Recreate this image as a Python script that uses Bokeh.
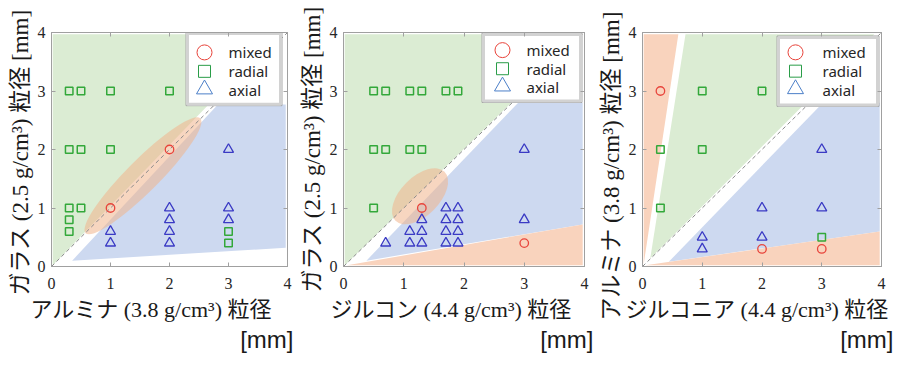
import math
from bokeh.plotting import figure
from bokeh.layouts import row
from bokeh.models import LinearAxis, FixedTicker, Range1d, Title
from bokeh.core.properties import value
from bokeh.embed import file_html
from bokeh.resources import INLINE

# ---------------- data ----------------
TICKS = [0, 1, 2, 3, 4]
LEGEND_LABELS = ["mixed", "radial", "axial"]
DIAG = [0, 4]

# Panel 1: alumina (x) vs glass (y)
P1_MIXED_X = [1, 2]
P1_MIXED_Y = [1, 2]
P1_RADIAL_X = [0.3, 0.5, 1, 2, 0.3, 0.5, 1, 0.3, 0.5, 0.3, 0.3, 3, 3]
P1_RADIAL_Y = [3, 3, 3, 3, 2, 2, 2, 1, 1, 0.8, 0.6, 0.6, 0.4]
P1_AXIAL_X = [1, 1, 2, 2, 2, 2, 3, 3, 3]
P1_AXIAL_Y = [0.6, 0.4, 1, 0.8, 0.6, 0.4, 2, 1, 0.8]

# Panel 2: zircon (x) vs glass (y)
P2_MIXED_X = [1.3, 3]
P2_MIXED_Y = [1, 0.4]
P2_RADIAL_X = [0.5, 0.7, 1.1, 1.3, 1.7, 1.9, 0.5, 0.7, 1.1, 1.3, 0.5]
P2_RADIAL_Y = [3, 3, 3, 3, 3, 3, 2, 2, 2, 2, 1]
P2_AXIAL_X = [0.7, 1.1, 1.3, 1.1, 1.3, 1.3, 1.7, 1.9, 1.7, 1.9, 1.7, 1.9, 1.7, 1.9, 3, 3]
P2_AXIAL_Y = [0.4, 0.6, 0.6, 0.4, 0.4, 0.8, 1, 1, 0.8, 0.8, 0.6, 0.6, 0.4, 0.4, 2, 0.8]

# Panel 3: zirconia (x) vs alumina (y)
P3_MIXED_X = [0.3, 2, 3]
P3_MIXED_Y = [3, 0.3, 0.3]
P3_RADIAL_X = [0.3, 1, 2, 1, 0.3, 3]
P3_RADIAL_Y = [2, 3, 3, 2, 1, 0.5]
P3_AXIAL_X = [1, 1, 2, 2, 3, 3]
P3_AXIAL_Y = [0.5, 0.3, 1, 0.5, 2, 1]

# shaded regime regions
P1_GREEN_X = [0.02, 0.02, 3.82]
P1_GREEN_Y = [0.02, 3.97, 3.97]
P1_BLUE_X = [0.35, 3.97, 3.97, 2.82]
P1_BLUE_Y = [0.10, 0.32, 2.77, 2.77]
P1_ELLIPSE = dict(x=1.55, y=1.55, w=2.75, h=0.55, angle=45)

P2_GREEN_X = [0.02, 0.02, 3.95]
P2_GREEN_Y = [0.02, 3.97, 3.97]
P2_BLUE_X = [0.38, 3.97, 3.97, 2.90]
P2_BLUE_Y = [0.10, 0.72, 2.80, 2.80]
P2_ORANGE_X = [0.06, 3.97, 3.97]
P2_ORANGE_Y = [0.02, 0.02, 0.72]
P2_ELLIPSE = dict(x=1.27, y=1.20, w=1.15, h=0.66, angle=45)

P3_ORANGE_L_X = [0.02, 0.02, 0.60]
P3_ORANGE_L_Y = [0.04, 3.97, 3.97]
P3_GREEN_X = [0.13, 0.72, 3.88]
P3_GREEN_Y = [0.14, 3.97, 3.97]
P3_BLUE_X = [0.44, 3.97, 3.97, 3.02]
P3_BLUE_Y = [0.08, 0.60, 2.80, 2.80]
P3_ORANGE_B_X = [0.05, 3.97, 3.97]
P3_ORANGE_B_Y = [0.02, 0.02, 0.60]

# ---------------- style ----------------
SERIF = "'Liberation Serif', 'Times New Roman', serif"
MIX = "'Liberation Serif', 'Noto Sans CJK JP', serif"
SANS = "'Liberation Sans', 'Noto Sans', sans-serif"
LEG_FONT = "'Noto Sans', sans-serif"
TEXT_COL = "#1a1a1a"
FRAME_COL = "#a0a0a0"
GREEN_FILL = "#dbecd3"
BLUE_FILL = "#cdd9f0"
ORANGE_FILL = "#f9d3bd"
ELL_FILL = "#f0b48c"
RED = "#e8453c"
GREEN = "#33a83a"
BLUE = "#3a3ac4"
LEG_RED = "#e8433a"
LEG_GREEN = "#2a9d48"
LEG_BLUE = "#4c7fc8"
H = 364


def make_panel(cfg):
    fw, fh, w, l, t = cfg["fw"], cfg["fh"], cfg["w"], cfg["l"], cfg["t"]
    p = figure(width=w, height=H, x_range=Range1d(0, 4), y_range=Range1d(0, 4),
               min_border_left=l, min_border_right=w - l - fw,
               min_border_top=t, min_border_bottom=H - t - fh,
               output_backend="svg", toolbar_location=None)
    p.grid.visible = False
    p.outline_line_color = FRAME_COL
    p.outline_line_width = 1
    p.background_fill_color = "white"
    p.border_fill_color = "white"

    for ax in (p.xaxis[0], p.yaxis[0]):
        ax.ticker = FixedTicker(ticks=TICKS)
        ax.major_tick_in = 4
        ax.major_tick_out = 0
        ax.minor_tick_line_color = None
        ax.axis_line_color = FRAME_COL
        ax.major_tick_line_color = FRAME_COL
        ax.major_label_text_font = SERIF
        ax.major_label_text_font_size = "16px"
        ax.major_label_text_color = "#262626"
    p.xaxis[0].major_label_standoff = 11
    p.yaxis[0].major_label_standoff = 6
    for loc in ("above", "right"):
        ax = LinearAxis(ticker=FixedTicker(ticks=TICKS), major_tick_in=4, major_tick_out=0,
                        minor_tick_line_color=None, axis_line_color=FRAME_COL,
                        major_tick_line_color=FRAME_COL, major_label_text_font_size="1px",
                        major_label_text_color=None, major_label_standoff=0)
        p.add_layout(ax, loc)

    # axis titles (as Titles so they can be offset along the axis)
    p.add_layout(Title(text=cfg["xlabel"], align="left", offset=cfg["x_off"],
                       text_font=MIX, text_font_size="22px", text_font_style="normal",
                       text_color=TEXT_COL, standoff=7, vertical_align="bottom"), "below")
    p.add_layout(Title(text="[mm]", align="right", offset=cfg["mm_off"],
                       text_font=SANS, text_font_size="24px", text_font_style="normal",
                       text_color=TEXT_COL, standoff=0, vertical_align="top"), "below")
    p.add_layout(Title(text=cfg["ylabel"], align="left", offset=cfg["y_off"],
                       text_font=MIX, text_font_size="23px", text_font_style="normal",
                       text_color=TEXT_COL, standoff=0, vertical_align="top"), "left")

    # regions
    for (xs, ys, col) in cfg["regions"]:
        p.patch(xs, ys, fill_color=col, line_color=None)
    if cfg.get("ellipse"):
        e = cfg["ellipse"]
        p.ellipse(x=[e["x"]], y=[e["y"]], width=[e["w"]], height=[e["h"]],
                  angle=[math.radians(e["angle"])], fill_color=ELL_FILL, fill_alpha=0.55,
                  line_color=None)

    p.line(DIAG, DIAG, line_color="#8a8a8a", line_dash="4 3", line_width=1)

    mx, my, rx, ry, axx, axy = cfg["pts"]
    p.scatter(rx, ry, marker="square", size=7.5, line_color=GREEN, fill_color=None, line_width=1.5)
    p.scatter(axx, axy, marker="triangle", size=10, line_color=BLUE, fill_color=None, line_width=1.3)
    p.scatter(mx, my, marker="circle", size=8.5, line_color=RED, fill_color=None, line_width=1.3)

    # legend box (pixel layout relative to the frame, mapped through the scales)
    bl, br, bt, bb, mxp, txp, rows = cfg["legend"]
    sx = 4.0 / fw
    sy = 4.0 / fh
    X = lambda px: px * sx
    Y = lambda py: 4 - py * sy
    p.quad(left=[X(bl - 1.5)], right=[X(br + 1.5)], top=[Y(bt - 1.5)], bottom=[Y(bb + 1.5)],
           fill_color=None, line_color="#a8a8a8", line_width=1)
    p.quad(left=[X(bl)], right=[X(br)], top=[Y(bt)], bottom=[Y(bb)],
           fill_color="white", line_color="#d2d2d2", line_width=3)
    ry_ = [Y(bt + r) for r in rows]
    p.scatter([X(bl + mxp)], [ry_[0]], marker="circle", size=15, line_color=LEG_RED,
              fill_color=None, line_width=1)
    p.scatter([X(bl + mxp)], [ry_[1]], marker="square", size=12, line_color=LEG_GREEN,
              fill_color=None, line_width=1)
    p.scatter([X(bl + mxp)], [ry_[2] + 1.0 * sy], marker="triangle", size=16, line_color=LEG_BLUE,
              fill_color=None, line_width=1)
    p.text(x=[X(bl + txp)] * 3, y=ry_, text=LEGEND_LABELS, text_font=value(LEG_FONT),
           text_font_size="15px", text_baseline="middle", text_align="left",
           text_color="#262626")
    return p


cfg1 = dict(w=295, l=51, fw=236, t=31, fh=235,
            regions=[(P1_GREEN_X, P1_GREEN_Y, GREEN_FILL), (P1_BLUE_X, P1_BLUE_Y, BLUE_FILL)],
            ellipse=P1_ELLIPSE,
            pts=(P1_MIXED_X, P1_MIXED_Y, P1_RADIAL_X, P1_RADIAL_Y, P1_AXIAL_X, P1_AXIAL_Y),
            xlabel="アルミナ (3.8 g/cm³) 粒径", x_off=-21, mm_off=-6,
            ylabel="ガラス (2.5 g/cm³) 粒径 [mm]", y_off=-29,
            legend=(136, 229, 1, 72, 17, 41, [19, 38, 57]))
cfg2 = dict(w=299, l=48, fw=241, t=30, fh=239,
            regions=[(P2_GREEN_X, P2_GREEN_Y, GREEN_FILL), (P2_BLUE_X, P2_BLUE_Y, BLUE_FILL),
                     (P2_ORANGE_X, P2_ORANGE_Y, ORANGE_FILL)],
            ellipse=P2_ELLIPSE,
            pts=(P2_MIXED_X, P2_MIXED_Y, P2_RADIAL_X, P2_RADIAL_Y, P2_AXIAL_X, P2_AXIAL_Y),
            xlabel="ジルコン (4.4 g/cm³) 粒径", x_off=-13, mm_off=-9,
            ylabel="ガラス (2.5 g/cm³) 粒径 [mm]", y_off=-26,
            legend=(140, 237, 2, 70, 19, 43, [16, 35, 54]))
cfg3 = dict(w=314, l=48, fw=239, t=32, fh=236,
            regions=[(P3_ORANGE_L_X, P3_ORANGE_L_Y, ORANGE_FILL), (P3_GREEN_X, P3_GREEN_Y, GREEN_FILL),
                     (P3_BLUE_X, P3_BLUE_Y, BLUE_FILL), (P3_ORANGE_B_X, P3_ORANGE_B_Y, ORANGE_FILL)],
            ellipse=None,
            pts=(P3_MIXED_X, P3_MIXED_Y, P3_RADIAL_X, P3_RADIAL_Y, P3_AXIAL_X, P3_AXIAL_Y),
            xlabel="ジルコニア (4.4 g/cm³) 粒径", x_off=-17, mm_off=-12,
            ylabel="アルミナ (3.8 g/cm³) 粒径 [mm]", y_off=-54,
            legend=(136, 235, 5, 73, 17, 44, [15, 34, 53]))

layout = row(make_panel(cfg1), make_panel(cfg2), make_panel(cfg3))
open("out.html", "w").write(file_html(layout, INLINE))
